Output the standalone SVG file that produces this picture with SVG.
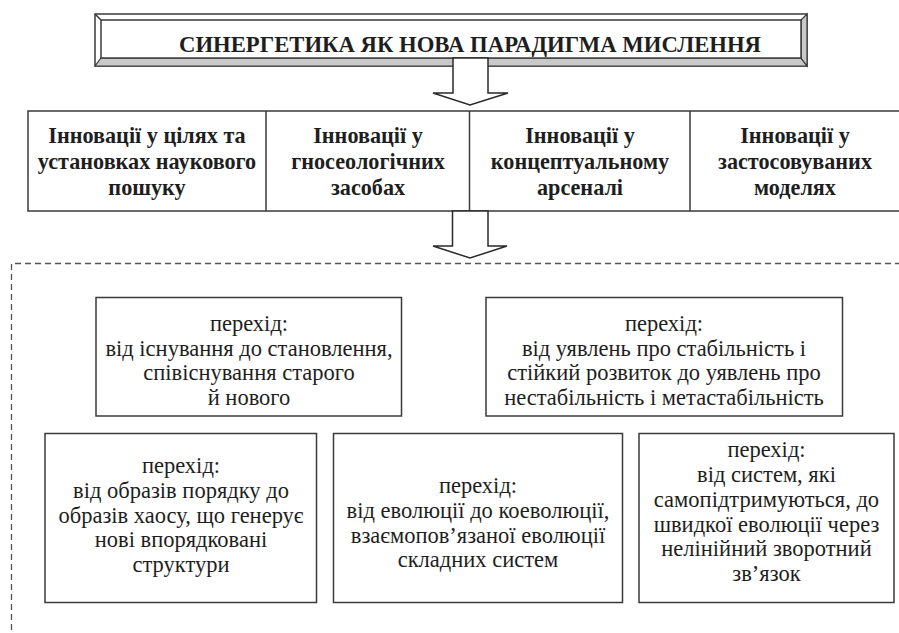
<svg xmlns="http://www.w3.org/2000/svg" width="899" height="633" viewBox="0 0 899 633">
<style>
.box{fill:#fff;stroke:#3a3a3a;stroke-width:1.5}
.ln{fill:none;stroke:#3a3a3a;stroke-width:1.5}
.bv{fill:#c9c9c9;stroke:#3a3a3a;stroke-width:1.2}
.arr{fill:#fff;stroke:#2a2a2a;stroke-width:1.5}
.dash{fill:none;stroke:#555;stroke-width:1.3;stroke-dasharray:6 4}
.t{font-family:"Liberation Serif","Times New Roman",serif;fill:#1e1e1e;text-anchor:middle}
.tb{font-weight:bold;font-size:22.2px}
.tr{font-size:22.5px}
.tt{font-weight:bold;font-size:22.7px}
</style>
<rect width="899" height="633" fill="#fff"/>
<g id="title">
<rect class="box" x="95" y="14" width="712" height="52"/>
<polygon class="bv" points="95,66 807,66 801,58 101,58"/>
<polygon class="bv" points="807,14 807,66 801,58 801,20"/>
<rect class="box" x="101" y="20" width="700" height="38"/>
<line class="ln" x1="95" y1="14" x2="101" y2="20"/>
<text class="t tt" x="470" y="52">СИНЕРГЕТИКА ЯК НОВА ПАРАДИГМА МИСЛЕННЯ</text>
</g>
<g id="innovations">
<rect class="box" x="28" y="111" width="880" height="100"/>
<line class="ln" x1="266" y1="111" x2="266" y2="211"/>
<line class="ln" x1="469.5" y1="111" x2="469.5" y2="211"/>
<line class="ln" x1="690" y1="111" x2="690" y2="211"/>
</g>
<g id="inn1"><text class="t tb"><tspan x="147" y="143">Інновації у цілях та</tspan><tspan x="147" y="169">установках наукового</tspan><tspan x="147" y="195">пошуку</tspan></text></g>
<g id="inn2"><text class="t tb"><tspan x="368" y="143">Інновації у</tspan><tspan x="368" y="169">гносеологічних</tspan><tspan x="368" y="195">засобах</tspan></text></g>
<g id="inn3"><text class="t tb"><tspan x="580" y="143">Інновації у</tspan><tspan x="580" y="169">концептуальному</tspan><tspan x="580" y="195">арсеналі</tspan></text></g>
<g id="inn4"><text class="t tb"><tspan x="795" y="143">Інновації у</tspan><tspan x="795" y="169">застосовуваних</tspan><tspan x="795" y="195">моделях</tspan></text></g>
<g id="connectors">
<polygon class="arr" points="453,58 488,58 488,93 508,93 470,105 433,93 453,93"/>
<polygon class="arr" points="452.5,211 488,211 488,246 507,246 470,258 433,246 452.5,246"/>
<path class="dash" d="M11.5,640 V263.5 H905"/>
</g>
<g id="t1">
<rect class="box" x="96" y="297.5" width="305.5" height="118.5"/>
<text class="t tr"><tspan x="249" y="331">перехід:</tspan><tspan x="249" y="356">від існування до становлення,</tspan><tspan x="249" y="380">співіснування старого</tspan><tspan x="249" y="405">й нового</tspan></text>
</g>
<g id="t2">
<rect class="box" x="486" y="297.5" width="356.5" height="118.5"/>
<text class="t tr"><tspan x="664" y="331">перехід:</tspan><tspan x="664" y="356">від уявлень про стабільність і</tspan><tspan x="664" y="380">стійкий розвиток до уявлень про</tspan><tspan x="664" y="405">нестабільність і метастабільність</tspan></text>
</g>
<g id="t3">
<rect class="box" x="45" y="433.5" width="271.5" height="169"/>
<text class="t tr"><tspan x="181" y="473">перехід:</tspan><tspan x="181" y="498">від образів порядку до</tspan><tspan x="181" y="523">образів хаосу, що генерує</tspan><tspan x="181" y="547">нові впорядковані</tspan><tspan x="181" y="572">структури</tspan></text>
</g>
<g id="t4">
<rect class="box" x="333.5" y="433.5" width="289" height="169"/>
<text class="t tr"><tspan x="478" y="493">перехід:</tspan><tspan x="478" y="518">від еволюції до коеволюції,</tspan><tspan x="478" y="543">взаємопов’язаної еволюції</tspan><tspan x="478" y="567">складних систем</tspan></text>
</g>
<g id="t5">
<rect class="box" x="639" y="433.5" width="255" height="169"/>
<text class="t tr"><tspan x="766.5" y="457">перехід:</tspan><tspan x="766.5" y="482">від систем, які</tspan><tspan x="766.5" y="507">самопідтримуються, до</tspan><tspan x="766.5" y="532">швидкої еволюції через</tspan><tspan x="766.5" y="556">нелінійний зворотний</tspan><tspan x="766.5" y="581">зв’язок</tspan></text>
</g>
</svg>
